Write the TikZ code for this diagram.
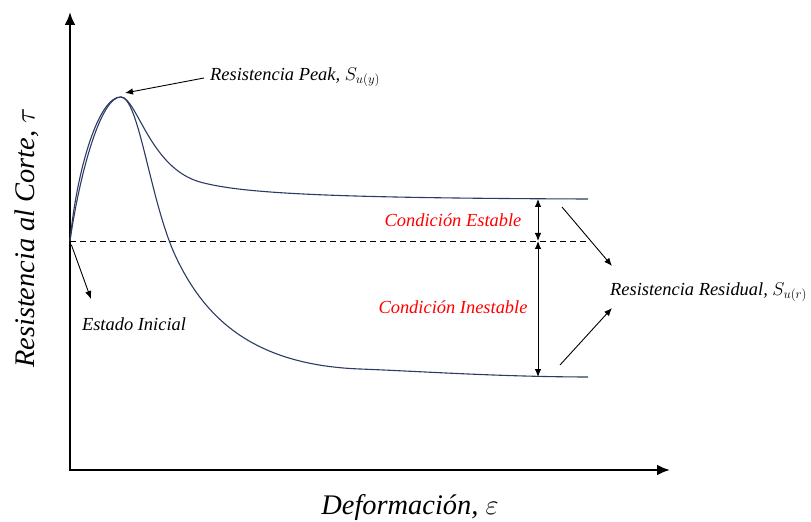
\RequirePackage{fix-cm}
\documentclass[tikz,border=0pt]{standalone}
\usepackage{fontspec}
\setmainfont{Liberation Serif}
\usetikzlibrary{calc,arrows.meta}
\definecolor{curvecol}{RGB}{44,58,100}

\begin{document}
\begin{tikzpicture}[x=1bp,y=-1bp,
        curva/.style={color=curvecol, line width=1.1bp},
        eje/.style={line width=2.8bp, -{Latex[length=13bp,width=11bp]}},
        flecha/.style={line width=0.9bp, -{Latex[length=8bp,width=6.5bp]}},
        doble/.style={line width=0.9bp, {Latex[length=8bp,width=6.5bp]}-{Latex[length=8bp,width=6.5bp]}},
        etiq/.style={font=\fontsize{18.5}{21}\selectfont\itshape, inner sep=0pt},
        cond/.style={etiq, color=red},
        titulo/.style={font=\fontsize{28.5}{32}\selectfont\itshape, inner sep=0pt}]
        \useasboundingbox (0,0) rectangle (811,522);
        % ejes
        \coordinate (orig) at (70,470);
        \coordinate (ytop) at (70,12);
        \coordinate (xend) at (670,470);
        \draw[eje] ([yshift=1.4bp]orig) -- (ytop);
        \draw[eje] ([xshift=-1.4bp]orig) -- (xend);
        \node[titulo, rotate=90] (ylab) at (27,238) {Resistencia al Corte, $\tau$};
        \node[titulo] (xlab) at (410,508) {Deformación, $\varepsilon$};
        % curvas
        \coordinate (o) at (70,241);
        \coordinate (pk) at (121,97);
        \draw[curva] (o) .. controls (77,168) and (99,96) .. (pk)
            .. controls (137,98) and (150,168) .. (200,182)
            .. controls (240,193) and (320,198) .. (588,199);
        \draw[curva] (o) .. controls (80,172) and (101,96) .. (pk)
            .. controls (139,98) and (150,200) .. (175,255)
            .. controls (205,320) and (255,365) .. (360,369)
            .. controls (420,371.3) and (500,376.8) .. (588,377);
        \coordinate (dfin) at (588,241);
        \draw[dash pattern=on 6bp off 4bp, line width=0.9bp] (o) -- (dfin);
        % condiciones
        \coordinate (hi) at (538,199);
        \coordinate (mid) at (538,241);
        \coordinate (lo) at (538,377);
        \draw[doble] (hi) -- (mid);
        \draw[doble] (mid) -- (lo);
        \node[cond] (estable) at (453,220) {Condición Estable};
        \node[cond] (inestable) at (453,307) {Condición Inestable};
        % etiquetas
        \node[etiq, anchor=west] (peak) at (210,77) {Resistencia Peak, $S_{u(y)}$};
        \coordinate (pico) at (125,93);
        \draw[flecha] (peak.west) ++(-6,1) -- (pico);
        \node[etiq] (inicial) at (134,324) {Estado Inicial};
        \coordinate (ini) at (91,299);
        \draw[flecha, shorten <=4bp] (o) -- (ini);
        \node[etiq, anchor=west] (resid) at (610,292) {Resistencia Residual, $S_{u(r)}$};
        \coordinate (r1) at (562,207);
        \coordinate (r1b) at (612,266);
        \coordinate (r2) at (560,365);
        \coordinate (r2b) at (612,308);
        \draw[flecha] (r1) -- (r1b);
        \draw[flecha] (r2) -- (r2b);
\end{tikzpicture}
\end{document}
